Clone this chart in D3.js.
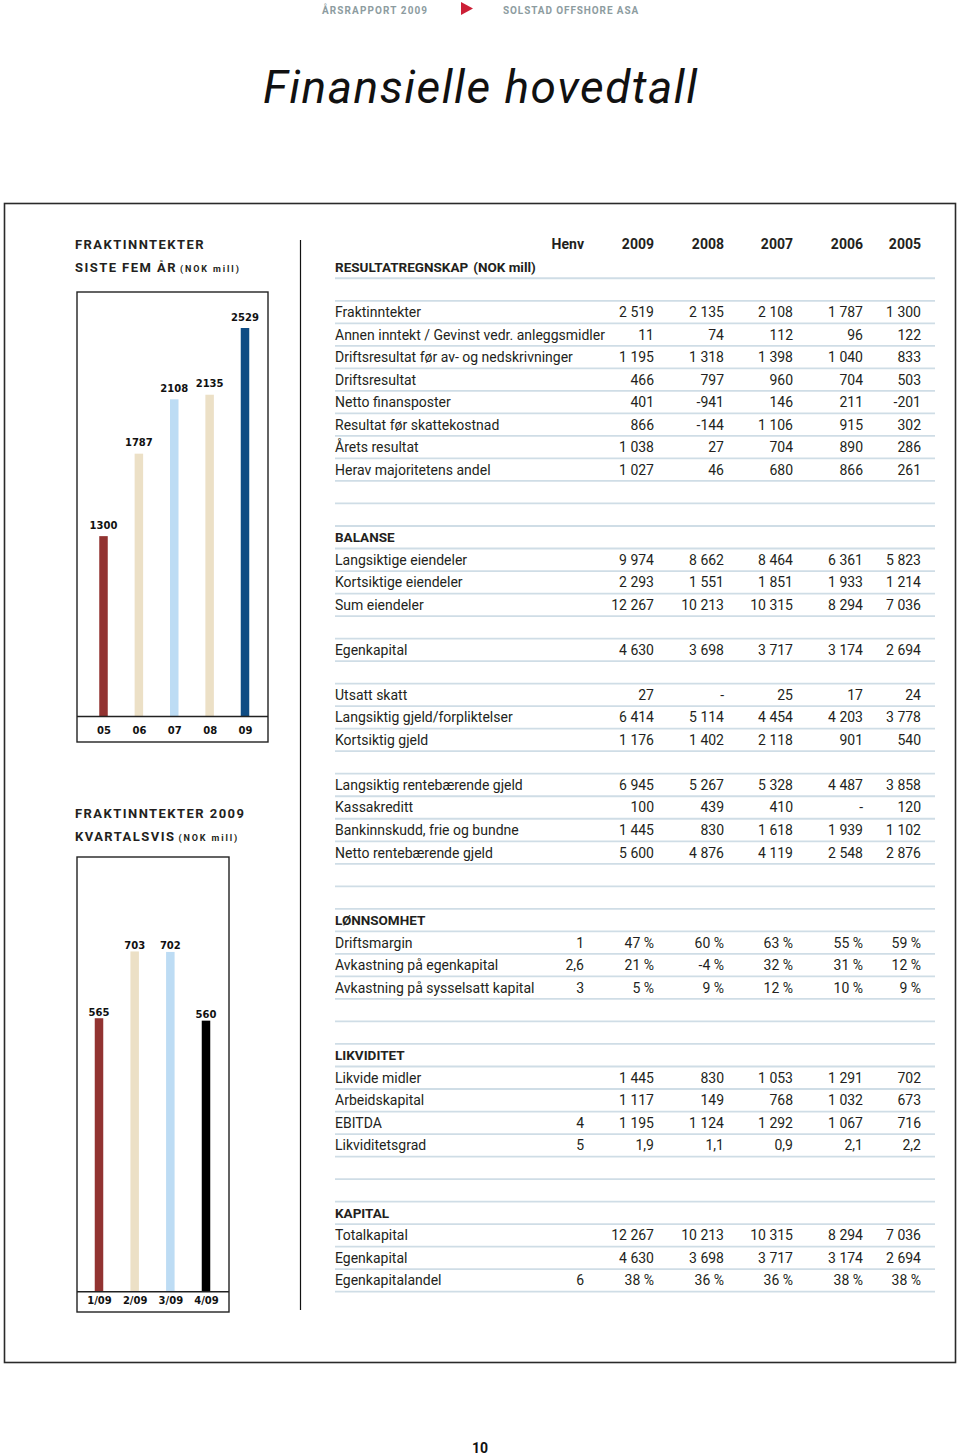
<!DOCTYPE html>
<html><head><meta charset="utf-8">
<script src="https://cdn.jsdelivr.net/npm/d3@7"></script>
<style>body{margin:0;background:#fff} svg{display:block}</style>
</head><body><svg id="c" width="960" height="1456"></svg>
<script>
// ---------- DATA ----------
const years = ["05","06","07","08","09"];
const yearValues = [1300,1787,2108,2135,2529];
const yearColors = ["#923331","#ece0c6","#bddcf4","#ece0c6","#0f4c84"];

const quarters = ["1/09","2/09","3/09","4/09"];
const quarterValues = [565,703,702,560];
const quarterColors = ["#923331","#ece0c6","#bddcf4","#000000"];

const columnHeaders = ["Henv","2009","2008","2007","2006","2005"];

const resultatLabels = ["Fraktinntekter","Annen inntekt / Gevinst vedr. anleggsmidler","Driftsresultat før av- og nedskrivninger","Driftsresultat","Netto finansposter","Resultat før skattekostnad","Årets resultat","Herav majoritetens andel"];
const resultatValues = [
 ["","2 519","2 135","2 108","1 787","1 300"],
 ["","11","74","112","96","122"],
 ["","1 195","1 318","1 398","1 040","833"],
 ["","466","797","960","704","503"],
 ["","401","-941","146","211","-201"],
 ["","866","-144","1 106","915","302"],
 ["","1 038","27","704","890","286"],
 ["","1 027","46","680","866","261"]];

const balanseLabels = ["Langsiktige eiendeler","Kortsiktige eiendeler","Sum eiendeler",null,"Egenkapital",null,"Utsatt skatt","Langsiktig gjeld/forpliktelser","Kortsiktig gjeld",null,"Langsiktig rentebærende gjeld","Kassakreditt","Bankinnskudd, frie og bundne","Netto rentebærende gjeld"];
const balanseValues = [
 ["","9 974","8 662","8 464","6 361","5 823"],
 ["","2 293","1 551","1 851","1 933","1 214"],
 ["","12 267","10 213","10 315","8 294","7 036"],
 null,
 ["","4 630","3 698","3 717","3 174","2 694"],
 null,
 ["","27","-","25","17","24"],
 ["","6 414","5 114","4 454","4 203","3 778"],
 ["","1 176","1 402","2 118","901","540"],
 null,
 ["","6 945","5 267","5 328","4 487","3 858"],
 ["","100","439","410","-","120"],
 ["","1 445","830","1 618","1 939","1 102"],
 ["","5 600","4 876","4 119","2 548","2 876"]];

const lonnsomhetLabels = ["Driftsmargin","Avkastning på egenkapital","Avkastning på sysselsatt kapital"];
const lonnsomhetValues = [
 ["1","47 %","60 %","63 %","55 %","59 %"],
 ["2,6","21 %","-4 %","32 %","31 %","12 %"],
 ["3","5 %","9 %","12 %","10 %","9 %"]];

const likviditetLabels = ["Likvide midler","Arbeidskapital","EBITDA","Likviditetsgrad"];
const likviditetValues = [
 ["","1 445","830","1 053","1 291","702"],
 ["","1 117","149","768","1 032","673"],
 ["4","1 195","1 124","1 292","1 067","716"],
 ["5","1,9","1,1","0,9","2,1","2,2"]];

const kapitalLabels = ["Totalkapital","Egenkapital","Egenkapitalandel"];
const kapitalValues = [
 ["","12 267","10 213","10 315","8 294","7 036"],
 ["","4 630","3 698","3 717","3 174","2 694"],
 ["6","38 %","36 %","36 %","38 %","38 %"]];

// ---------- DRAW ----------
const svg = d3.select("#c");
const ink = "#231f20";
const TF = "Roboto, 'Liberation Sans', sans-serif";
const CF = "'DejaVu Sans', Verdana, sans-serif";
const FS = 14;

// top header
svg.append("text").attr("x",322).attr("y",13.5).text("ÅRSRAPPORT 2009")
  .attr("font-family",TF).attr("font-weight",700).attr("font-size",10)
  .attr("letter-spacing",1.1).attr("fill","#8d9c9f");
svg.append("path").attr("d","M461,2 L473,8.5 L461,15 Z").attr("fill","#cc1f36");
svg.append("text").attr("x",503).attr("y",13.5).text("SOLSTAD OFFSHORE ASA")
  .attr("font-family",TF).attr("font-weight",700).attr("font-size",10)
  .attr("letter-spacing",0.9).attr("fill","#8d9c9f");

// title
svg.append("text").attr("x",263).attr("y",103).text("Finansielle hovedtall")
  .attr("font-family",TF).attr("font-style","italic").attr("font-size",46)
  .attr("textLength",434).attr("lengthAdjust","spacing").attr("fill","#111");

// main frame
svg.append("rect").attr("x",4.5).attr("y",203.5).attr("width",951).attr("height",1159)
  .attr("fill","none").attr("stroke","#2a2a2a").attr("stroke-width",1.6);
// divider
svg.append("line").attr("x1",300.5).attr("x2",300.5).attr("y1",240).attr("y2",1310)
  .attr("stroke","#111").attr("stroke-width",1.2);

// page number
svg.append("text").attr("x",480).attr("y",1453).attr("text-anchor","middle").text("10")
  .attr("font-family",TF).attr("font-weight",700).attr("font-size",14).attr("fill","#111");

// left titles
function leftTitle(y1, t1, y2, t2, t3){
  svg.append("text").attr("x",75).attr("y",y1).text(t1)
    .attr("font-family",TF).attr("font-weight",700).attr("font-size",13)
    .attr("letter-spacing",1.45).attr("fill",ink);
  const t = svg.append("text").attr("x",75).attr("y",y2)
    .attr("font-family",TF).attr("font-weight",700).attr("font-size",13)
    .attr("letter-spacing",1.45).attr("fill",ink);
  t.append("tspan").text(t2);
  t.append("tspan").attr("dx",3).attr("font-size",9).attr("letter-spacing",1.9).text(t3);
}
leftTitle(249,"FRAKTINNTEKTER",272,"SISTE FEM ÅR","(NOK mill)");
leftTitle(818,"FRAKTINNTEKTER 2009",841,"KVARTALSVIS","(NOK mill)");

function barChart(cats, vals, colors, box, xr, ydom, yr, labelOff, tickOff){
  const g = svg.append("g");
  g.append("rect").attr("x",box.x).attr("y",box.y).attr("width",box.w).attr("height",box.h)
    .attr("fill","none").attr("stroke","#222").attr("stroke-width",1.4);
  const x = d3.scalePoint().domain(cats).range(xr);
  const y = d3.scaleLinear().domain(ydom).range(yr);
  const bw = 8.5;
  g.selectAll("rect.bar").data(cats).join("rect").attr("class","bar")
    .attr("x",d=>x(d)-bw/2).attr("width",bw)
    .attr("y",(d,i)=>y(vals[i])).attr("height",(d,i)=>yr[0]-y(vals[i]))
    .attr("fill",(d,i)=>colors[i]);
  g.append("line").attr("x1",box.x).attr("x2",box.x+box.w).attr("y1",yr[0]).attr("y2",yr[0])
    .attr("stroke","#222").attr("stroke-width",1.4);
  g.selectAll("text.v").data(cats).join("text").attr("class","v")
    .attr("x",d=>x(d)).attr("y",(d,i)=>y(vals[i])-labelOff).attr("text-anchor","middle")
    .text((d,i)=>vals[i]).attr("font-family",CF).attr("font-weight",700).attr("font-size",10).attr("fill","#111");
  const ax = d3.axisBottom(x).tickSize(0).tickPadding(0);
  const axg = g.append("g").attr("transform",`translate(0,${yr[0]+tickOff})`).call(ax);
  axg.select(".domain").remove();
  axg.selectAll("text").attr("font-family",CF).attr("font-weight",700).attr("font-size",10)
    .attr("fill","#111").attr("dy",0).attr("y",0);
}
barChart(years, yearValues, yearColors, {x:77,y:292,w:191,h:450}, [103.5,245], [235,2529], [716.5,328], 7.5, 17.5);
barChart(quarters, quarterValues, quarterColors, {x:77,y:857,w:152,h:455}, [99,206], [0,800], [1291.7,904.5], 2.5, 12.5);

// table
const colX = [584,654,724,793,863,921];
const rowY = d3.scaleLinear().domain([0,43]).range([312,1280.4]);
const tg = svg.append("g").attr("font-family",TF).attr("fill",ink);
// rules
tg.selectAll("line.rule").data(d3.range(-2,44)).join("line").attr("class","rule")
  .attr("x1",335).attr("x2",935).attr("y1",d=>rowY(d)+11.3).attr("y2",d=>rowY(d)+11.3)
  .attr("stroke","#cfdde6").attr("stroke-width",1.8);
// headers
tg.selectAll("text.ch").data(columnHeaders).join("text").attr("class","ch")
  .attr("x",(d,i)=>colX[i]).attr("y",rowY(-3)+5).attr("text-anchor","end")
  .attr("font-weight",700).attr("font-size",FS).text(d=>d);
const rh = tg.append("text").attr("x",335).attr("y",rowY(-2)+5).attr("font-weight",700).attr("font-size",FS-0.5);
rh.append("tspan").text("RESULTATREGNSKAP");
rh.append("tspan").attr("dx",5).text("(NOK mill)");

function section(start, title, labels, values){
  let r = start;
  if(title){
    tg.append("text").attr("x",335).attr("y",rowY(r)+5).attr("font-weight",700)
      .attr("font-size",FS-0.5).text(title);
    r++;
  }
  labels.forEach((lab,i)=>{
    const ry = rowY(r+i)+5;
    if(lab===null) return;
    tg.append("text").attr("x",335).attr("y",ry).attr("font-size",FS).text(lab);
    values[i].forEach((v,j)=>{
      if(v==="") return;
      tg.append("text").attr("x",colX[j]).attr("y",ry).attr("text-anchor","end")
        .attr("font-size",FS).text(v);
    });
  });
}
section(0, null, resultatLabels, resultatValues);
section(10, "BALANSE", balanseLabels, balanseValues);
section(27, "LØNNSOMHET", lonnsomhetLabels, lonnsomhetValues);
section(33, "LIKVIDITET", likviditetLabels, likviditetValues);
section(40, "KAPITAL", kapitalLabels, kapitalValues);
</script></body></html>
